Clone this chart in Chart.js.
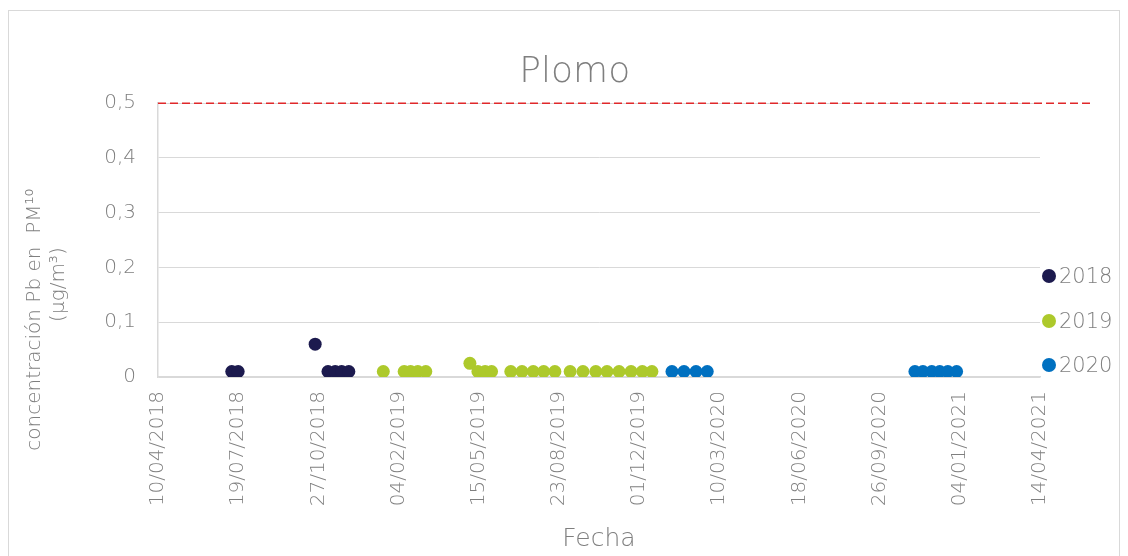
<!DOCTYPE html>
<html>
<head>
<meta charset="utf-8">
<script src="https://cdn.jsdelivr.net/npm/chart.js@4.4.1/dist/chart.umd.min.js"></script>
<style>
  body { margin: 0; background: #fff; }
  #frame { position: absolute; left: 8px; top: 10px; width: 1112px; height: 560px; border: 1px solid #d9d9d9; box-sizing: border-box; }
  #plomo { position: absolute; left: 0; top: 0; }
  #legend { position: absolute; left: 1042px; top: 254px; font-family: "DejaVu Sans"; font-weight: 200; font-size: 21px; color: #7f7f7f; }
  #legend .row { display: flex; align-items: center; height: 44.5px; }
  #legend .dot { width: 14px; height: 14px; border-radius: 50%; margin-right: 3px; }
</style>
</head>
<body>
<div id="frame"></div>
<canvas id="plomo" width="1128" height="556"></canvas>
<div id="legend"></div>
<script>
// Sample dates and Pb concentrations (µg/m3)
const dates2018 = ['2018-07-11', '2018-07-19', '2018-10-23', '2018-11-08', '2018-11-17', '2018-11-25', '2018-12-04'];
const values2018 = [0.01, 0.01, 0.06, 0.01, 0.01, 0.01, 0.01];

const dates2019 = ['2019-01-16', '2019-02-11', '2019-02-19', '2019-02-28', '2019-03-10',
  '2019-05-04', '2019-05-14', '2019-05-23', '2019-05-31',
  '2019-06-24', '2019-07-08', '2019-07-22', '2019-08-04', '2019-08-18',
  '2019-09-06', '2019-09-22', '2019-10-08', '2019-10-22', '2019-11-06', '2019-11-21', '2019-12-05', '2019-12-17'];
const values2019 = [0.01, 0.01, 0.01, 0.01, 0.01,
  0.025, 0.01, 0.01, 0.01,
  0.01, 0.01, 0.01, 0.01, 0.01,
  0.01, 0.01, 0.01, 0.01, 0.01, 0.01, 0.01, 0.01];

const dates2020 = ['2020-01-11', '2020-01-26', '2020-02-10', '2020-02-24',
  '2020-11-09', '2020-11-19', '2020-11-30', '2020-12-10', '2020-12-20', '2020-12-31'];
const values2020 = [0.01, 0.01, 0.01, 0.01, 0.01, 0.01, 0.01, 0.01, 0.01, 0.01];

// Limit value line (dashed red)
const limitValue = 0.5;
const limitDates = ['2018-04-10', '2021-06-18'];

// Axis settings
const xStart = '2018-04-10';
const xEnd = '2021-04-14';
const xStepDays = 100;
const yMax = 0.5;
const yStep = 0.1;

const seriesLabels = ['2018', '2019', '2020'];
const seriesColors = ['#1c1a4e', '#adc92b', '#0070c0'];

const DAY = 86400000;
const grey = '#7f7f7f';
const font = 'DejaVu Sans';

function toPoints(dates, values) {
  return dates.map((d, i) => ({ x: Date.parse(d), y: values[i] }));
}

function fmtDate(ms) {
  const d = new Date(ms);
  const dd = String(d.getUTCDate()).padStart(2, '0');
  const mm = String(d.getUTCMonth() + 1).padStart(2, '0');
  return dd + '/' + mm + '/' + d.getUTCFullYear();
}

const seriesData = [
  toPoints(dates2018, values2018),
  toPoints(dates2019, values2019),
  toPoints(dates2020, values2020)
];

const datasets = seriesLabels.map((label, i) => ({
  type: 'scatter',
  label: label,
  data: seriesData[i],
  backgroundColor: seriesColors[i],
  borderWidth: 0,
  pointRadius: 6.5,
  pointHoverRadius: 6.5
}));

datasets.push({
  type: 'line',
  label: 'limite',
  data: limitDates.map(d => ({ x: Date.parse(d), y: limitValue })),
  borderColor: '#e0282a',
  borderWidth: 1.5,
  borderDash: [8, 4],
  pointRadius: 0,
  clip: false
});

// extra spaces nudge the titles to where the original has them
const chartTitle = ' '.repeat(8) + 'Plomo';
const yTitle = ['concentración Pb en  PM¹⁰' + ' '.repeat(25), '(µg/m³)' + ' '.repeat(14)];

const ctx = document.getElementById('plomo').getContext('2d');
new Chart(ctx, {
  type: 'scatter',
  data: { datasets: datasets },
  options: {
    responsive: false,
    devicePixelRatio: 1,
    animation: false,
    layout: { padding: { top: 0, left: 18, right: 88, bottom: 4 } },
    plugins: {
      legend: { display: false },
      tooltip: { enabled: false },
      title: {
        display: true,
        text: chartTitle,
        color: grey,
        font: { family: font, size: 36, weight: 200 },
        padding: { top: 51, bottom: 9 }
      }
    },
    scales: {
      x: {
        type: 'linear',
        min: Date.parse(xStart),
        max: Date.parse(xEnd),
        afterFit: s => { s.height = 175; },
        grid: { display: false, drawTicks: false },
        border: { display: true, color: '#d9d9d9', width: 1.5 },
        ticks: {
          stepSize: xStepDays * DAY,
          autoSkip: false,
          minRotation: 90,
          maxRotation: 90,
          padding: 14,
          color: grey,
          font: { family: font, size: 20, weight: 200 },
          callback: v => fmtDate(v)
        },
        title: {
          display: true,
          text: 'Fecha',
          color: grey,
          font: { family: font, size: 25, weight: 200 },
          padding: { top: 0, bottom: -2 }
        }
      },
      y: {
        min: 0,
        max: yMax,
        afterFit: s => { s.width = 140; },
        grid: { color: '#d9d9d9', drawTicks: false },
        border: { display: true, color: '#d9d9d9', width: 1.5 },
        ticks: {
          stepSize: yStep,
          padding: 22,
          color: grey,
          font: { family: font, size: 20, weight: 200 },
          callback: v => v === 0 ? '0' : v.toFixed(1).replace('.', ',')
        },
        title: {
          display: true,
          text: yTitle,
          color: grey,
          font: { family: font, size: 20, weight: 200 },
          padding: { top: 5, bottom: 0 }
        }
      }
    }
  }
});

// Legend on the right, built from the series
const legend = document.getElementById('legend');
seriesLabels.forEach((label, i) => {
  const row = document.createElement('div');
  row.className = 'row';
  const dot = document.createElement('span');
  dot.className = 'dot';
  dot.style.background = seriesColors[i];
  const txt = document.createElement('span');
  txt.textContent = label;
  row.appendChild(dot);
  row.appendChild(txt);
  legend.appendChild(row);
});
</script>
</body>
</html>
